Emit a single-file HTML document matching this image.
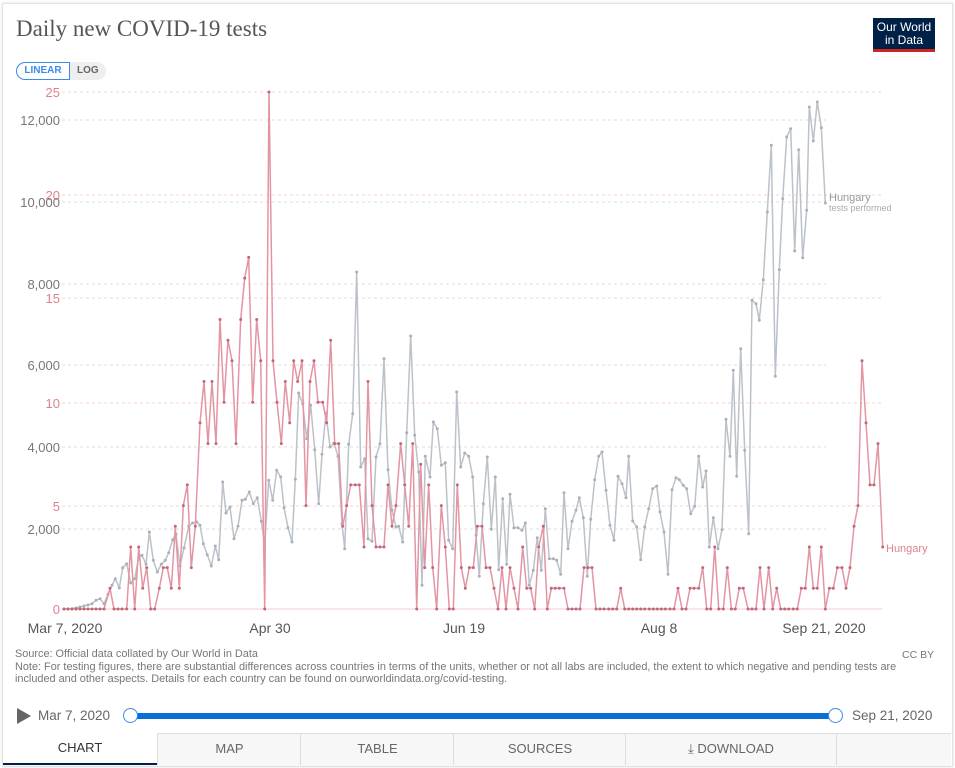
<!DOCTYPE html><html><head><meta charset="utf-8"><style>
body{margin:0;width:955px;height:768px;background:#fff;font-family:"Liberation Sans",sans-serif;overflow:hidden;position:relative}
.card{position:absolute;left:2px;top:3px;width:949px;height:762px;border:1px solid #e2e2e2;box-shadow:0 0 3px rgba(0,0,0,.12)}
.t{position:absolute;white-space:nowrap}
</style></head><body>
<div class="card"></div>
<div class="t" style="left:16px;top:16px;font-family:'Liberation Serif',serif;font-size:23px;color:#555">Daily new COVID-19 tests</div>
<div class="t" style="left:873px;top:18px;width:62px;height:34px;background:#002147;color:#fff;font-size:12px;line-height:13px;text-align:center;padding-top:3px;box-sizing:border-box;border-bottom:3px solid #ce261e">Our World<br>in Data</div>
<div class="t" style="left:16px;top:62px;width:90px;height:18px;border-radius:9px;background:#eee"></div>
<div class="t" style="left:16px;top:62px;width:52px;height:16px;border:1px solid #3b8be8;border-radius:9px 0 0 9px;background:#fff;color:#3b8be8;font-size:10px;font-weight:bold;line-height:16px;text-align:center">LINEAR</div>
<div class="t" style="left:77px;top:63px;color:#666;font-size:10px;font-weight:bold;line-height:16px">LOG</div>
<svg id="s" width="955" height="768" style="position:absolute;left:0;top:0"></svg>
<div class="t" style="left:15px;top:648px;font-size:10.9px;color:#777;line-height:12.5px">Source: Official data collated by Our World in Data<br>Note: For testing figures, there are substantial differences across countries in terms of the units, whether or not all labs are included, the extent to which negative and pending tests are<br>included and other aspects. Details for each country can be found on ourworldindata.org/covid-testing.</div>
<div class="t" style="left:902px;top:649px;font-size:10.5px;color:#777">CC BY</div>
<div class="t" style="left:17px;top:708px;width:0;height:0;border-left:14px solid #666;border-top:8px solid transparent;border-bottom:8px solid transparent"></div>
<div class="t" style="left:38px;top:708px;font-size:13.5px;color:#666">Mar 7, 2020</div>
<div class="t" style="left:129px;top:713px;width:708px;height:6px;background:#0a6ed8"></div>
<div class="t" style="left:123px;top:708px;width:13px;height:13px;border:1.5px solid #3b8be8;border-radius:50%;background:#fff"></div>
<div class="t" style="left:828px;top:708px;width:13px;height:13px;border:1.5px solid #3b8be8;border-radius:50%;background:#fff"></div>
<div class="t" style="left:852px;top:708px;font-size:13.5px;color:#666">Sep 21, 2020</div>
<div class="t" style="left:3px;top:733px;width:948px;height:32px;border-top:1px solid #ddd;background:#f7f7f7"></div>
<div class="t" style="left:3px;top:733px;width:154px;height:30px;background:#fff;border-bottom:2px solid #002147;text-align:center;line-height:30px;font-size:13px;color:#333">CHART</div>
<div class="t" style="left:157px;top:734px;width:143px;height:31px;border-left:1px solid #ddd;text-align:center;line-height:30px;font-size:13px;color:#666">MAP</div>
<div class="t" style="left:300px;top:734px;width:153px;height:31px;border-left:1px solid #ddd;text-align:center;line-height:30px;font-size:13px;color:#666">TABLE</div>
<div class="t" style="left:453px;top:734px;width:172px;height:31px;border-left:1px solid #ddd;text-align:center;line-height:30px;font-size:13px;color:#666">SOURCES</div>
<div class="t" style="left:625px;top:734px;width:210px;height:31px;border-left:1px solid #ddd;border-right:1px solid #ddd;text-align:center;line-height:30px;font-size:13px;color:#666">&#x2913; DOWNLOAD</div>
<script>
var s=document.getElementById('s'),h='';
function ln(x1,y1,x2,y2,c,d,w){h+='<line x1="'+x1+'" y1="'+y1+'" x2="'+x2+'" y2="'+y2+'" stroke="'+c+'" stroke-width="'+(w||1)+'"'+(d?' stroke-dasharray="'+d+'"':'')+'/>';}
function tx(x,y,t,c,a,fs){h+='<text x="'+x+'" y="'+y+'" fill="'+c+'" font-size="'+(fs||13)+'" text-anchor="'+(a||'end')+'" font-family="Liberation Sans,sans-serif">'+t+'</text>';}
[[120,'12,000'],[202,'10,000'],[284,'8,000'],[365,'6,000'],[447,'4,000'],[529,'2,000']].forEach(function(g){ln(62,g[0],826,g[0],'#ddd','3,3');tx(60,g[0]+5,g[1],'#777');});
[[92,'25'],[195,'20'],[298,'15'],[403,'10'],[506,'5']].forEach(function(g){ln(62,g[0],882,g[0],'#f5d0d6','3,3');tx(60,g[0]+5,g[1],'#e0808f');});
ln(62,609,882,609,'#f3c8cf');tx(60,614,'0','#e0808f');
tx(65,633,'Mar 7, 2020','#555','middle',14);tx(270,633,'Apr 30','#555','middle',14);tx(464,633,'Jun 19','#555','middle',14);tx(659,633,'Aug 8','#555','middle',14);tx(824,633,'Sep 21, 2020','#555','middle',14);
var G=[],R=[];
function add(arr,off,list,red){list.forEach(function(p){arr.push([off+p[0]/3,red?609-p[1]*20.68:Math.min(609,87+p[1]/3)]);});}
add(R,60,[[12,0],[24,0],[36,0],[48,0],[60,0],[72,0],[84,0],[96,0],[108,0],[120,0],[132,0],[150,1],[162,0],[174,0],[186,0],[200,0],[212,3],[224,0],[236,3],[248,1],[260,2],[272,0],[284,0],[298,1],[310,2],[322,2],[334,1],[346,4],[358,1],[370,5],[382,6],[394,2],[406,4],[420,9],[432,11],[444,8],[456,11],[468,8],[480,14],[492,10],[504,13],[516,12],[528,8],[542,14],[554,16],[566,17],[578,10],[590,14],[602,12],[614,0],[627,25],[639,12],[651,10],[664,8],[676,11],[689,9],[701,12],[713,11]],1);
add(R,290,[[36,12],[48,5],[60,11],[72,12],[84,10],[98,10],[110,9],[122,13],[134,8],[146,8],[158,4],[170,5],[182,6],[196,6],[208,6],[222,3],[234,11],[246,5],[258,3],[270,3],[282,3],[294,6],[306,4],[318,5],[332,8],[344,6],[356,4],[368,8],[380,0],[392,7],[404,2],[416,6],[428,2],[440,0],[454,5],[466,3],[478,0],[490,0],[502,6],[514,2],[526,1],[538,2],[550,2],[562,4],[576,4],[588,2],[600,2],[612,1],[624,0],[636,2],[648,0],[660,2],[672,1],[684,0],[698,3],[710,1]],1);
add(R,520,[[32,1],[44,0],[56,3],[70,4],[82,0],[94,1],[106,1],[118,1],[132,1],[144,0],[156,0],[168,0],[180,0],[192,2],[204,2],[216,2],[228,0],[240,0],[252,0],[266,0],[278,0],[290,0],[302,1],[314,0],[326,0],[338,0],[350,0],[362,0],[374,0],[388,0],[400,0],[412,0],[424,0],[436,0],[450,0],[462,0],[474,1],[486,0],[498,0],[510,1],[522,1],[536,1],[548,2],[560,0],[572,0],[584,3]],1);
add(R,710,[[26,0],[40,0],[52,2],[64,0],[76,0],[88,1],[100,1],[114,0],[126,0],[138,0],[150,2],[162,0],[176,2],[188,0],[200,1],[212,0],[224,0],[236,0],[250,0],[262,0],[274,1],[286,1],[298,3],[310,1],[322,1],[334,3],[346,0],[358,1],[370,1],[382,2],[396,2],[408,1],[420,2],[432,4],[444,5],[456,12],[468,9],[480,6],[492,6],[504,8],[518,3]],1);
add(G,60,[[12,1566],[24,1566],[36,1565],[48,1563],[60,1560],[72,1557],[84,1554],[96,1550],[108,1540],[120,1535],[132,1550],[144,1522],[156,1495],[166,1475],[178,1503],[188,1442],[200,1430],[212,1488],[224,1475],[236,1412],[246,1405],[258,1432],[268,1335],[280,1420],[292,1455],[304,1432],[316,1420],[326,1397],[338,1358],[348,1342],[360,1437],[372,1383],[386,1318],[398,1308],[410,1305],[420,1315],[430,1370],[442,1403],[454,1437],[466,1377],[476,1418],[488,1185],[498,1278],[510,1260],[522,1355],[534,1318],[546,1240],[556,1237],[568,1215],[580,1250],[592,1232],[604,1303],[614,1372],[626,1180],[638,1240],[650,1150],[662,1170],[672,1262],[684,1322],[696,1365],[706,1177],[716,918]]);
add(G,290,[[38,950],[50,1055],[62,955],[74,1088],[86,1250],[96,1102],[108,978],[120,1080],[132,1068],[144,1108],[156,1310],[164,1385],[176,1072],[188,980],[200,555],[212,1140],[224,1115],[234,1355],[246,1363],[258,1110],[270,1070],[282,815],[294,1148],[306,1270],[318,1320],[326,1318],[338,1365],[350,1037],[362,747],[374,1045],[386,1155],[396,1495],[406,1108],[420,1170],[430,1005],[442,1025],[454,1135],[466,1127],[476,1360],[488,1385],[500,915],[512,1140],[524,1098],[536,1108],[548,1170],[558,1345],[568,1468],[580,1250],[592,1110],[604,1327],[616,1170],[626,1448],[638,1235],[650,1432],[660,1222],[672,1322],[684,1322],[696,1330],[706,1308],[718,1495]]);
add(G,520,[[40,1450],[52,1352],[64,1450],[76,1265],[88,1415],[100,1415],[110,1420],[122,1462],[132,1217],[144,1385],[156,1303],[168,1270],[178,1232],[190,1292],[202,1468],[212,1297],[224,1178],[236,1108],[246,1095],[258,1210],[270,1315],[282,1360],[294,1168],[306,1190],[318,1232],[326,1108],[338,1302],[350,1320],[362,1418],[374,1320],[386,1265],[398,1205],[410,1197],[420,1275],[432,1335],[444,1462],[456,1208],[468,1172],[478,1178],[490,1195],[500,1205],[512,1280],[524,1258],[536,1108],[548,1200],[558,1152],[568,1380],[580,1292],[594,1385]]);
add(G,710,[[36,1328],[48,997],[60,1108],[70,850],[80,1168],[92,785],[104,1090],[116,1340],[126,640],[138,650],[148,700],[160,578],[172,375],[184,175],[196,868],[208,548],[218,335],[230,150],[242,125],[254,492],[266,188],[278,512],[290,370],[298,60],[310,162],[322,45],[334,122],[346,348]]);
function series(arr,lc,dc){h+='<polyline fill="none" stroke="'+lc+'" stroke-width="1.5" stroke-linejoin="round" points="'+arr.map(function(p){return p[0].toFixed(1)+','+p[1].toFixed(1)}).join(' ')+'"/>';arr.forEach(function(p){h+='<circle cx="'+p[0].toFixed(1)+'" cy="'+p[1].toFixed(1)+'" r="1.5" fill="'+dc+'"/>';});}
series(G,'#bcc2c9','#aab1b9');
series(R,'#e495a2','#c0687a');
tx(829,201,'Hungary','#999','start',11);tx(829,211,'tests performed','#aaa','start',9);
tx(886,552,'Hungary','#e0808f','start',11);
s.innerHTML=h;
</script>
</body></html>
